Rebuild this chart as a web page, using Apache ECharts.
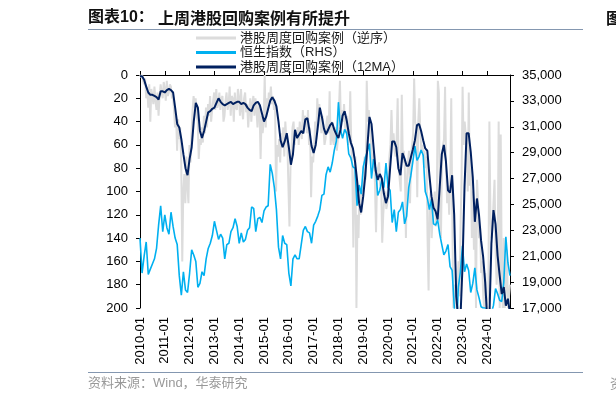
<!DOCTYPE html>
<html><head><meta charset="utf-8">
<script src="https://cdn.jsdelivr.net/npm/echarts@6/dist/echarts.min.js"></script>
<style>html,body{margin:0;padding:0;background:#fff}#c{width:616px;height:403px}</style>
</head><body><div id="c"></div>
<script>
// Monthly categories 2010-01 .. 2024-12
const months = [];
for (let y = 2010; y <= 2024; y++) for (let m = 1; m <= 12; m++) months.push(y + '-' + (m < 10 ? '0' + m : m));
// Half-month categories for the weekly (raw) series
const halfMonths = [];
months.forEach(function (m) { halfMonths.push(m + '-01'); halfMonths.push(m + '-16'); });

const leftTicks = [0, 20, 40, 60, 80, 100, 120, 140, 160, 180, 200];
const rightTicks = [17000, 19000, 21000, 23000, 25000, 27000, 29000, 31000, 33000, 35000];

const seriesNames = ['港股周度回购案例（逆序）', '恒生指数（RHS）', '港股周度回购案例（12MA）'];

// 港股周度回购案例（逆序） – raw, two readings per month
const buybackRaw = [
 0,2, 0,5, 8,3, 20,10, 28,8, 40,12, 18,25, 10,22, 30,15, 35,18, 8,15, 20,6,
 12,22, 5,18, 15,8, 10,20, 18,30, 45,35, 65,38, 55,45, 75,160, 100,85, 110,70, 95,110,
 60,75, 50,30, 18,28, 20,35, 40,72, 55,60, 45,58, 35,50, 28,45, 25,35, 18,40, 30,22,
 15,30, 12,28, 25,15, 30,20, 18,40, 35,22, 15,30, 25,10, 35,18, 20,40, 15,28, 30,12,
 20,35, 12,30, 38,20, 15,32, 25,45, 30,20, 40,25, 18,35, 20,30, 45,25, 30,72, 35,50,
 40,0, 45,20, 30,15, 20,10, 25,18, 30,22, 100,60, 70,55, 75,50, 60,45, 70,40, 55,60,
 95,130, 80,65, 45,40, 60,50, 55,45, 60,40, 48,55, 30,45, 35,40, 50,30, 60,45, 105,70,
 75,60, 40,55, 20,35, 25,40, 50,35, 45,60, 55,40, 35,50, 14,60, 40,55, 60,45, 50,65,
 55,30, 5,45, 30,40, 25,45, 50,35, 60,55, 14,60, 80,148, 90,70, 200,120, 140,100, 120,95,
 100,80, 70,90, 5,40, 30,45, 55,70, 80,65, 95,135, 90,80, 75,95, 90,144, 120,105, 100,115,
 110,90, 70,60, 30,60, 50,65, 70,55, 20,80, 90,100, 17,75, 65,80, 140,90, 75,65, 110,70,
 60,50, 3,40, 45,105, 40,20, 50,65, 60,70, 65,80, 70,140, 185,110, 100,140, 120,110, 100,130,
 110,5, 15,120, 140,75, 60,55, 10,80, 110,95, 120,90, 20,120, 200,180, 180,200, 200,160, 190,130,
 90,10, 60,40, 50,60, 100,15, 95,70, 140,100, 150,120, 200,90, 110,140, 130,170, 160,190, 200,170,
 200,200, 190,40, 120,140, 130,110, 90,150, 180,160, 40,200, 51,170, 200,140, 200,180, 150,200, 190,180
];

// 恒生指数（RHS） – monthly
const hsi = [
 22400,19700,21000,22100,19600,20000,20400,20800,21600,23400,24900,22900,
 24200,23200,22700,24400,23300,22400,21900,19500,18000,19800,18400,18200,
 19700,21500,21100,20600,18600,18900,19800,19500,20800,21600,22000,22600,
 23700,23000,22300,22700,22400,20800,21900,22000,22900,23200,23900,23300,
 22000,22800,22100,22300,23000,23200,24800,24700,22900,23900,24000,23600,
 24500,24800,24900,28100,27400,26300,24600,21700,20800,22600,22000,21900,
 19700,18700,20800,21100,20800,20800,21900,23000,23300,22900,22800,22000,
 23400,23700,24100,24600,25700,25800,27300,27900,27500,28200,29200,29900,
 32900,30800,30100,30800,30500,28900,28600,27900,27800,24900,26500,25800,
 27900,28600,29100,29700,27000,28500,27800,25700,26100,26900,26300,28200,
 26300,26100,23600,24600,22900,24400,24600,25200,23500,24100,26300,27200,
 28300,29500,28400,28700,29200,28800,26000,25500,24600,25400,23500,23400,
 23800,22700,21900,21100,21400,21900,20200,19900,17200,14700,18600,19800,
 21800,19800,20400,19900,18200,18900,20100,18400,17800,17100,17000,17000,
 15800,16300,16600,17200,18500,18100,17600,17500,19000,22500,20500,19500
];

// 港股周度回购案例（12MA） – monthly
const buybackMA = [
 1,1,4,10,15,17,17,18,19,21,14,14,
 15,13,12,13,15,28,42,45,55,68,80,86,
 72,62,40,24,28,48,54,48,40,32,31,29,
 28,24,20,23,25,26,25,24,23,25,24,23,
 23,25,24,25,28,30,31,26,24,23,26,33,
 40,36,29,22,19,22,27,40,56,62,57,50,
 62,77,68,47,54,51,48,50,38,37,48,61,
 67,60,45,28,36,46,51,47,43,41,47,51,
 54,47,35,31,39,50,58,63,74,90,110,118,
 104,86,62,36,42,62,82,90,85,89,102,110,
 104,80,57,57,62,80,86,67,72,78,78,71,
 64,56,43,42,48,56,63,65,86,104,114,117,
 124,96,68,60,74,99,101,86,120,190,210,210,
 165,96,50,50,66,88,126,106,120,142,156,178,
 210,210,145,116,128,155,172,188,182,198,192,205
];

const F = "'Liberation Sans','Noto Sans CJK SC',sans-serif";
const CJK = "'Noto Sans CJK SC',sans-serif";

const chart = echarts.init(document.getElementById('c'), null, {renderer: 'canvas'});
chart.setOption({
  animation: false,
  backgroundColor: '#fff',
  grid: {left: 140, right: 106, top: 75, bottom: 95, containLabel: false, outerBoundsMode: 'none'},
  legend: {
    data: seriesNames,
    orient: 'vertical',
    left: 196, top: 31,
    icon: 'rect',
    itemWidth: 40, itemHeight: 3, itemGap: 0.5,
    textStyle: {fontFamily: F, fontSize: 13, color: '#1a1a1a', lineHeight: 14, padding: [0, 0, 0, -1]},
    padding: 0
  },
  xAxis: [{
    type: 'category', data: months, boundaryGap: false,
    axisLine: {lineStyle: {color: '#000', width: 1}},
    axisTick: {inside: true, length: 4, interval: 11, alignWithLabel: true, lineStyle: {color: '#000'}},
    axisLabel: {interval: 11, rotate: 90, margin: 9, fontFamily: F, fontSize: 13, color: '#000'},
    splitLine: {show: false}
  }, {
    type: 'category', data: halfMonths, boundaryGap: false, show: false
  }],
  yAxis: [{
    type: 'value', inverse: true, min: leftTicks[0], max: leftTicks[leftTicks.length - 1], interval: 20,
    axisLine: {show: true, lineStyle: {color: '#000', width: 1}},
    axisTick: {show: true, length: 4, lineStyle: {color: '#000'}},
    axisLabel: {margin: 12, fontFamily: F, fontSize: 13, color: '#000'},
    splitLine: {show: false}
  }, {
    type: 'value', position: 'right', min: rightTicks[0], max: rightTicks[rightTicks.length - 1], interval: 2000,
    axisLine: {show: true, lineStyle: {color: '#000', width: 1}},
    axisTick: {show: true, length: 4, lineStyle: {color: '#000'}},
    axisLabel: {margin: 12, fontFamily: F, fontSize: 13, color: '#000',
      formatter: function (v) { return v.toLocaleString('en-US'); }},
    splitLine: {show: false}
  }],
  series: [{
    name: seriesNames[0], type: 'line', xAxisIndex: 1, yAxisIndex: 0,
    data: buybackRaw, showSymbol: false, symbol: 'none', clip: true,
    lineStyle: {color: '#dcdcdc', width: 2}, itemStyle: {color: '#dcdcdc'}, z: 1
  }, {
    name: seriesNames[1], type: 'line', xAxisIndex: 0, yAxisIndex: 1,
    data: hsi, showSymbol: false, symbol: 'none', clip: true,
    lineStyle: {color: '#00b0f0', width: 1.6}, itemStyle: {color: '#00b0f0'}, z: 2
  }, {
    name: seriesNames[2], type: 'line', xAxisIndex: 0, yAxisIndex: 0,
    data: buybackMA, showSymbol: false, symbol: 'none', clip: true,
    lineStyle: {color: '#002060', width: 2}, itemStyle: {color: '#002060'}, z: 3
  }],
  graphic: [
    {type: 'text', left: 88, top: 10, style: {text: '图表10：', font: 'bold 16px ' + F, fill: '#111'}},
    {type: 'text', left: 158, top: 10, style: {text: '上周港股回购案例有所提升', font: 'bold 16px ' + CJK, fill: '#111'}},
    {type: 'text', left: 606, top: 10, style: {text: '图表', font: 'bold 16px ' + CJK, fill: '#111'}},
    {type: 'line', shape: {x1: 88, y1: 29.5, x2: 583, y2: 29.5}, style: {stroke: '#8497b0', lineWidth: 1}},
    {type: 'line', shape: {x1: 88, y1: 372.5, x2: 583, y2: 372.5}, style: {stroke: '#8497b0', lineWidth: 1}},
    {type: 'text', left: 88, top: 377, style: {text: '资料来源：Wind，华泰研究', font: '13px ' + F, fill: '#999'}},
    {type: 'text', left: 610, top: 377, style: {text: '资料', font: '13px ' + CJK, fill: '#999'}}
  ]
});
</script>
</body></html>
